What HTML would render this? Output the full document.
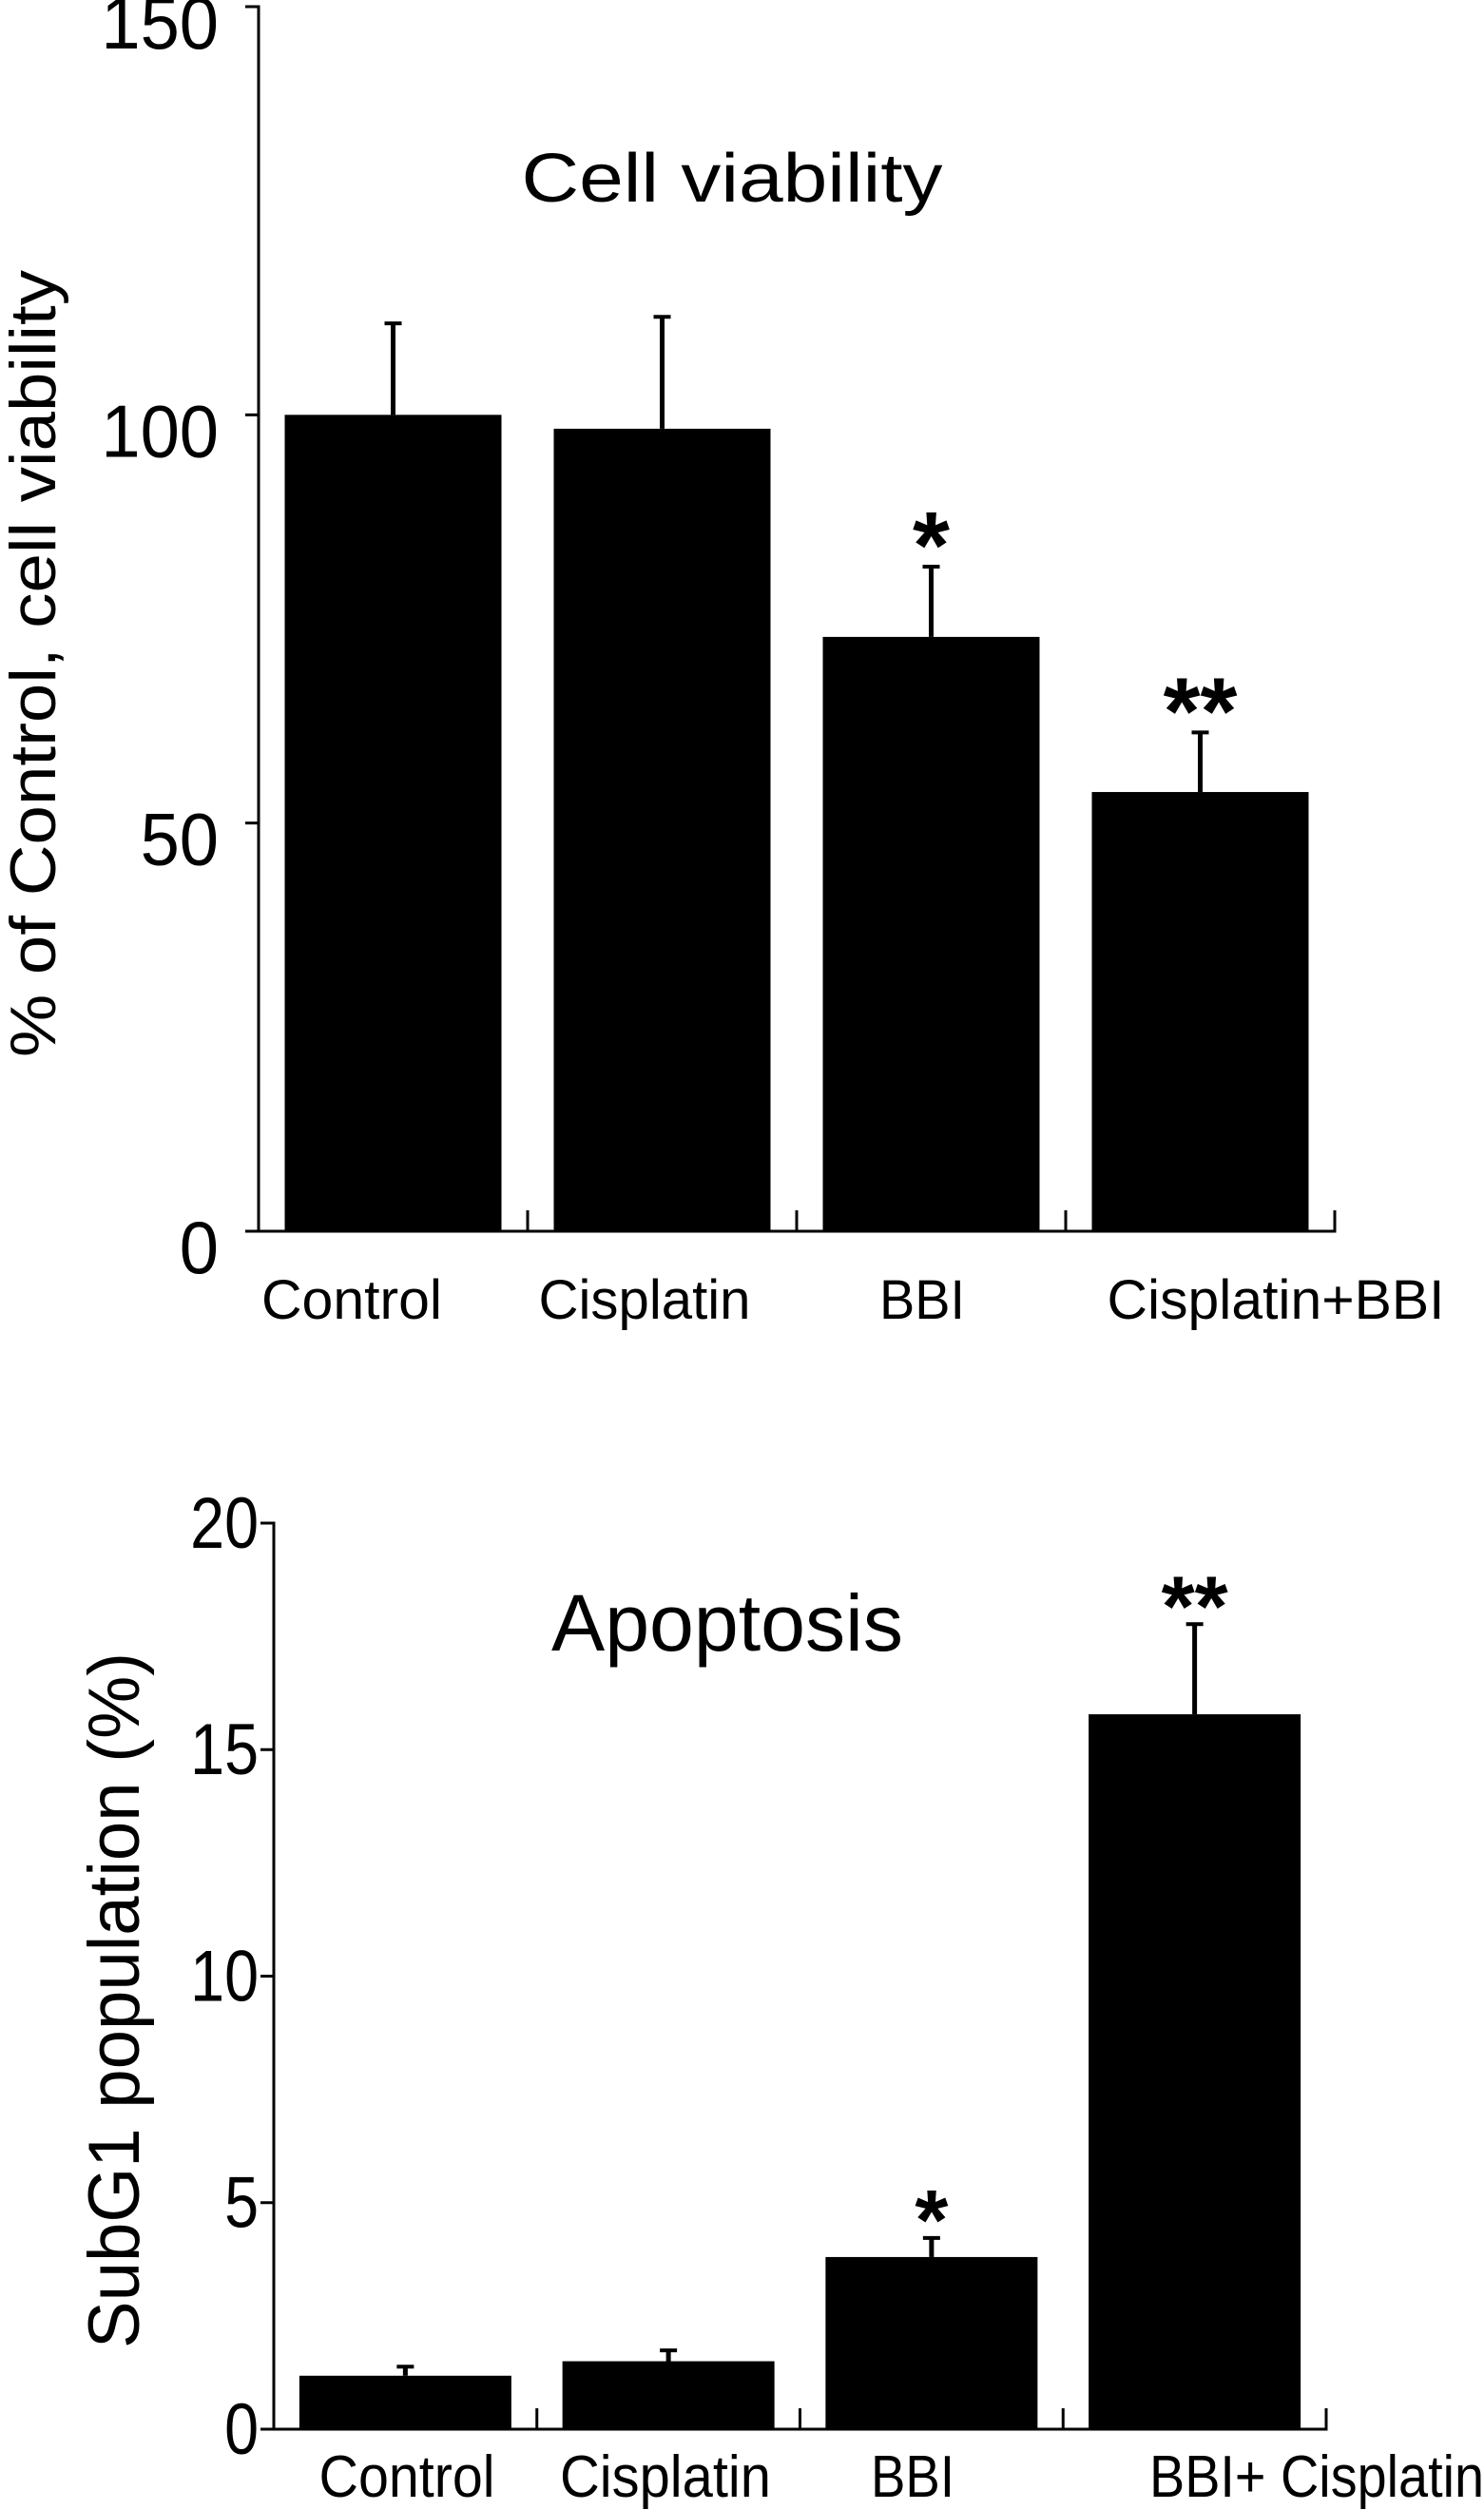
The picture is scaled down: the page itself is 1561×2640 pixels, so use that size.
<!DOCTYPE html>
<html><head><meta charset="utf-8"><style>html,body{margin:0;padding:0;background:#fff}svg{display:block}text{font-family:"Liberation Sans",sans-serif;fill:#000}</style></head>
<body>
<svg id="chart" width="1561" height="2640" viewBox="0 0 1561 2640" xmlns="http://www.w3.org/2000/svg"></svg>
<script>
const cats1 = ["Control","Cisplatin","BBI","Cisplatin+BBI"];
const vals1 = [100, 98.3, 72.8, 53.8];
const errs1 = [11.2, 13.7, 8.6, 7.3];
const stars1 = ["", "", "*", "**"];
const ticks1 = [0, 50, 100, 150];

const cats2 = ["Control","Cisplatin","BBI","BBI+ Cisplatin"];
const vals2 = [1.18, 1.50, 3.80, 15.78];
const errs2 = [0.20, 0.24, 0.42, 1.99];
const stars2 = ["", "", "*", "**"];
const ticks2 = [0, 5, 10, 15, 20];

const svg = document.getElementById('chart');
const NS = "http://www.w3.org/2000/svg";
function mk(tag, attrs, parent, txt){
  const e = document.createElementNS(NS, tag);
  for (const k in attrs) e.setAttribute(k, attrs[k]);
  if (txt !== undefined) e.textContent = txt;
  (parent||svg).appendChild(e);
  return e;
}

function panel(cfg){
  const g = mk('g', {});
  
  
  const y = v => cfg.y0 - (v - cfg.min) / (cfg.max - cfg.min) * (cfg.y0 - cfg.y1);
  const step = (cfg.xEnd - cfg.x0) / cfg.cats.length;
  const ax = mk('path', {d:`M${cfg.x0-14},${cfg.y1} H${cfg.x0} V${cfg.y0} H${cfg.xEnd} V${cfg.y0-22}`, fill:'none', stroke:'#000', 'stroke-width':3}, g);
  
  
  cfg.ticks.forEach(t => {
    const yy = y(t);
    const tk = mk('line', {x1:cfg.x0-14, x2:cfg.x0, y1:yy, y2:yy, stroke:'#000','stroke-width':3}, g);
    
    
    const lb = mk('text', {x:cfg.tickX, y:yy + cfg.tickDy, 'text-anchor':'end', 'font-size':cfg.tickFont, transform:`translate(${cfg.tickX},0) scale(${cfg.tickSx},1) translate(${-cfg.tickX},0)`}, g, String(t));
    
    
  });
  for (let i = 1; i < cfg.cats.length; i++) {
    const xx = cfg.x0 + step * i;
    const tk = mk('line', {x1:xx, x2:xx, y1:cfg.y0, y2:cfg.y0-22, stroke:'#000','stroke-width':3}, g);
    
    
  }
  cfg.cats.forEach((c, i) => {
    const cx = cfg.x0 + step * (i + 0.5);
    const bw = cfg.barW;
    const top = y(cfg.vals[i]);
    const et = y(cfg.vals[i] + cfg.errs[i]);
    const el = mk('line', {x1:cx, x2:cx, y1:top, y2:et, stroke:'#000','stroke-width':5}, g);
    
    
    const cap = mk('line', {x1:cx-9, x2:cx+9, y1:et, y2:et, stroke:'#000','stroke-width':4}, g);
    
    
    const r = mk('rect', {x:cx - bw/2, y:top, width:bw, height:cfg.y0 - top, fill:'#000'}, g);
    
    
    if (cfg.stars[i]) {
      const s = mk('text', {x:cx, y:et - cfg.starGap, 'text-anchor':'middle', 'font-size':cfg.starFont, 'font-weight':'bold'}, g, cfg.stars[i]);
      
      
    }
    const lx = cfg.labelX[i];
    const cl = mk('text', {x:lx, y:cfg.labelY, 'text-anchor':'middle', 'font-size':cfg.labelFont, textLength:cfg.labelW[i], lengthAdjust:'spacingAndGlyphs'}, g, c);
    
    
  });
  const t = mk('text', {x:cfg.titleX, y:cfg.titleY, 'text-anchor':'middle', 'font-size':cfg.titleFont, textLength:cfg.titleW, lengthAdjust:'spacingAndGlyphs'}, g, cfg.title);
  
  
  const yl = mk('text', {x:0, y:0, 'text-anchor':'middle', 'font-size':cfg.ylFont, textLength:cfg.ylW, lengthAdjust:'spacingAndGlyphs', transform:`translate(${cfg.ylX},${cfg.ylY}) rotate(-90)`}, g, cfg.ylabel);
  
  
}

panel({name:'cell-viability-chart', cats:cats1, vals:vals1, errs:errs1, stars:stars1, ticks:ticks1,
  min:0, max:150, x0:272, xEnd:1404, y0:1295, y1:7, barW:228,
  tickX:230, tickDy:44, tickFont:78, tickSx:0.95,
  starGap:-12, starFont:100,
  labelX:[370,678,970,1342], labelW:[190,223,90,355], labelY:1387, labelFont:58,
  title:'Cell viability', titleX:770, titleY:212, titleFont:72, titleW:443,
  ylabel:'% of Control, cell viability', ylX:58, ylY:698, ylFont:68, ylW:828});

panel({name:'apoptosis-chart', cats:cats2, vals:vals2, errs:errs2, stars:stars2, ticks:ticks2,
  min:0, max:20, x0:288, xEnd:1395, y0:2555, y1:1602, barW:223,
  tickX:272, tickDy:26, tickFont:76, tickSx:0.85,
  starGap:-12, starFont:90,
  labelX:[428,700,960,1385], labelW:[185,222,88,352], labelY:2626, labelFont:62,
  title:'Apoptosis', titleX:765, titleY:1736, titleFont:84, titleW:370,
  ylabel:'SubG1 population (%)', ylX:146, ylY:2104, ylFont:76, ylW:732});
</script>
</body></html>
